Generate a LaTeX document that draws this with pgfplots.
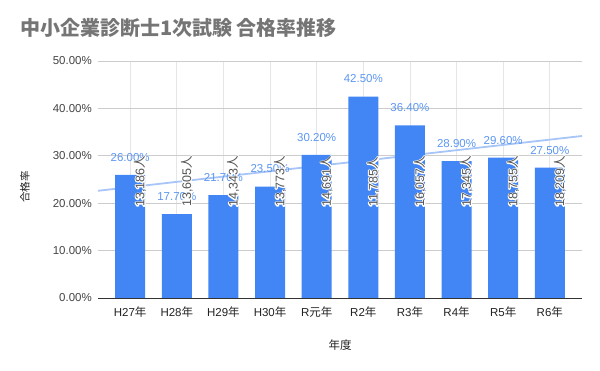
\documentclass[border=0pt]{standalone}
\usepackage{pgfplots}
\usepackage{pgfplotstable}
\pgfplotsset{compat=1.18}
\usepackage{fontspec}
\setmainfont{Liberation Sans}
\newfontfamily\cjk{Noto Sans CJK JP}
\definecolor{barc}{HTML}{4285F4}
\definecolor{lblc}{HTML}{5B96F2}
\definecolor{trendc}{HTML}{A8C5F8}
\definecolor{cntc}{HTML}{555555}
\definecolor{ytc}{HTML}{444444}
\definecolor{xtc}{HTML}{222222}
\definecolor{titc}{HTML}{757575}
\definecolor{hgrid}{HTML}{CCCCCC}
\definecolor{vgrid}{HTML}{E6E6E6}
\newcommand\haloed[1]{\leavevmode\rlap{\special{pdf:literal 1 Tr 2.2 w 1 J 1 j}\textcolor{white}{#1}\special{pdf:literal 0 Tr}}#1}

\pgfplotstableread{
x rate
0 26.0
1 17.7
2 21.7
3 23.5
4 30.2
5 42.5
6 36.4
7 28.9
8 29.6
9 27.5
}\ratetable

\pgfplotstableread{
x y cnt
0 19.0 13,186
1 19.0 13,605
2 19.0 14,343
3 19.0 13,773
4 19.0 14,691
5 19.0 11,785
6 19.0 16,057
7 19.0 17,345
8 19.0 18,755
9 19.0 18,209
}\cnttable

\begin{document}
\begin{tikzpicture}
\begin{axis}[
  scale only axis,
  width=484bp, height=237bp,
  xmin=-0.69, xmax=9.69,
  ymin=0, ymax=50,
  axis line style={draw=none},
  major tick length=0pt,
  tick style={draw=none},
  xtick={0,...,9},
  xticklabels={H27{\cjk 年},H28{\cjk 年},H29{\cjk 年},H30{\cjk 年},R{\cjk 元年},R2{\cjk 年},R3{\cjk 年},R4{\cjk 年},R5{\cjk 年},R6{\cjk 年}},
  ytick={0,10,20,30,40,50},
  yticklabel={\pgfmathprintnumber[fixed,fixed zerofill,precision=2,assume math mode=true]{\tick}\%},
  yticklabel style={font=\fontsize{11.5bp}{13bp}\selectfont, color=ytc, inner sep=0pt, xshift=-6bp},
  xticklabel style={font=\fontsize{11.5bp}{13bp}\selectfont, color=xtc, inner sep=0pt, yshift=-9bp},
  ymajorgrids, xmajorgrids,
  y grid style={hgrid, line width=0.8bp},
  x grid style={vgrid, line width=0.8bp},
  clip=false,
]
\coordinate (o) at (rel axis cs:0,0);
\addplot[trendc, line width=1.8bp, forget plot] coordinates {(-0.69,22.62) (9.69,34.18)};
\addplot[ybar, bar shift=0pt, bar width=30bp, fill=barc, draw=none,
  nodes near coords={\pgfmathprintnumber[fixed,fixed zerofill,precision=2,assume math mode=true]{\pgfplotspointmeta}\%},
  every node near coord/.append style={font=\fontsize{11.5bp}{13bp}\selectfont, color=lblc, anchor=south, yshift=10bp}]
  table[x=x, y=rate] {\ratetable};
\addplot[draw=none, mark=none, point meta=explicit symbolic,
  nodes near coords={\haloed{\pgfplotspointmeta{\cjk 人}}},
  every node near coord/.style={xshift=10bp, rotate=90, anchor=west, inner sep=1bp, font=\fontsize{12.5bp}{14bp}\selectfont, color=cntc}]
  table[x=x, y=y, meta=cnt] {\cnttable};
\draw[black!80, line width=0.9bp] (rel axis cs:0,0) -- (rel axis cs:1,0);
\end{axis}
\node[anchor=base west, font=\cjk\bfseries\fontsize{20bp}{23bp}\selectfont, color=titc, inner sep=0pt] at ([shift={(-78bp,262bp)}]o) {中小企業診断士1次試験 合格率推移};
\node[rotate=90, font=\cjk\fontsize{10.5bp}{12bp}\selectfont, color=xtc, inner sep=0pt] at ([shift={(-73bp,111bp)}]o) {合格率};
\node[font=\cjk\fontsize{11.5bp}{13bp}\selectfont, color=xtc, inner sep=0pt] at ([shift={(242bp,-47bp)}]o) {年度};
\path[use as bounding box] ([shift={(-98bp,-73bp)}]o) rectangle ([shift={(502bp,298bp)}]o);
\end{tikzpicture}
\end{document}
